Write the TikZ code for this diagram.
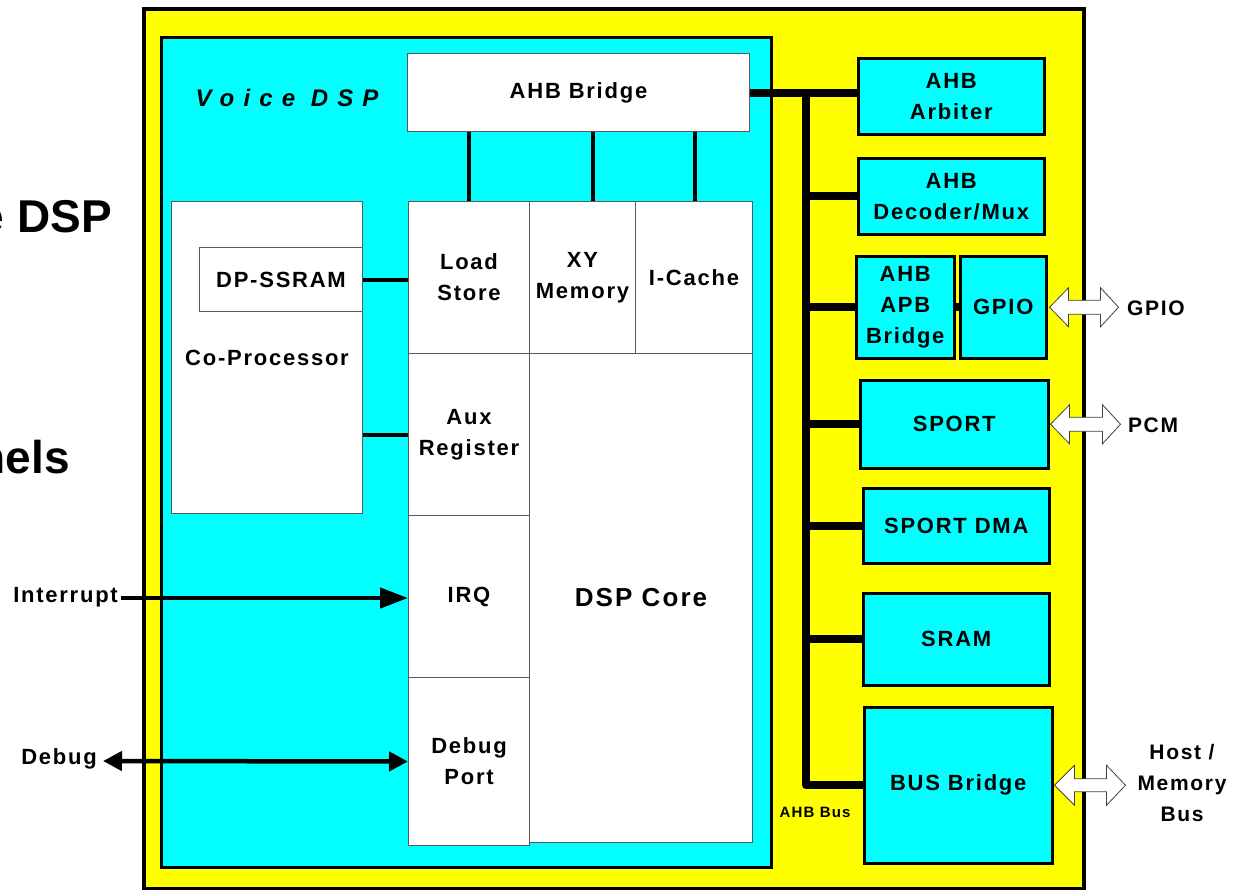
\documentclass[tikz,border=0pt]{standalone}
\usepackage{fontspec}
\setmainfont{Liberation Sans}
\newfontfamily\lbl{Liberation Sans}[LetterSpace=8]
\newfontfamily\vfont{Liberation Sans}[LetterSpace=38]
\usetikzlibrary{arrows.meta}
\definecolor{ylw}{RGB}{255,255,0}
\definecolor{cyn}{RGB}{0,255,255}
\definecolor{edgegray}{RGB}{90,90,90}
\newcommand\blockbox[7]{\node[#1, minimum width={#5-#3}, minimum height={#6-#4}] (#2) at (#3,#4) {#7};}
\begin{document}
\begin{tikzpicture}[x=1pt,y=-1pt,
  txt/.style={font=\lbl\bfseries\fontsize{22}{31}\selectfont, align=center},
  wbox/.style={draw=edgegray, line width=1pt, fill=white, anchor=north west, inner sep=0pt, txt},
  cbox/.style={draw=black, line width=2.5pt, fill=cyn, anchor=north west, inner sep=0pt, txt},
  frame/.style={draw=black, anchor=north west, inner sep=0pt},
  bus/.style={line width=8pt, line join=round},
  link/.style={line width=4pt},
  sig/.style={line width=4.5pt},
  blockarrow/.style={draw=black!75, fill=white, line width=0.8pt, line join=miter},
  side/.style={font=\lbl\bfseries\fontsize{21}{31}\selectfont, align=center},
  big/.style={font=\bfseries\fontsize{46}{50}\selectfont, inner sep=0pt}]
\useasboundingbox (0,0) rectangle (1233,889);
% partial slide texts (cut at the left edge, as in the reference)
\node[big, anchor=east] (ttl) at (112,217) {e DSP};
\node[big, anchor=base east] (ttl2) at (70,473) {nels};
% frames
\blockbox{frame, fill=ylw, line width=4pt}{soc}{142}{7}{1082}{887}{}
\blockbox{frame, fill=cyn, line width=3pt}{vdsp}{160}{36}{770}{866}{}
\node[font=\vfont\bfseries\itshape\fontsize{24}{28}\selectfont] (vlbl) at (287,98) {Voice DSP};
% DSP internals
\blockbox{wbox}{ahbbr}{407}{53}{749}{131}{AHB Bridge}
\blockbox{wbox}{cop}{171}{201}{362}{513}{Co-Processor}
\blockbox{wbox}{dpss}{199}{247}{362}{311}{DP-SSRAM}
\blockbox{wbox}{ls}{408}{201}{529}{353}{Load\\Store}
\blockbox{wbox}{xy}{529}{201}{635}{353}{XY\\Memory}
\blockbox{wbox}{ic}{635}{201}{752}{353}{I-Cache}
\blockbox{wbox}{aux}{408}{353}{529}{515}{Aux\\Register}
\blockbox{wbox}{irq}{408}{515}{529}{677}{IRQ}
\blockbox{wbox}{dport}{408}{677}{529}{845}{Debug\\Port}
\blockbox{wbox, font=\lbl\bfseries\fontsize{26}{31}\selectfont}{core}{529}{353}{752}{842}{DSP Core}
% peripherals
\blockbox{cbox}{arb}{857}{57}{1043}{133}{AHB\\Arbiter}
\blockbox{cbox}{dec}{857}{157}{1043}{233}{AHB\\Decoder/Mux}
\blockbox{cbox}{apb}{855}{255}{953}{357}{AHB\\APB\\Bridge}
\blockbox{cbox}{gpio}{959}{255}{1045}{357}{GPIO}
\blockbox{cbox}{sport}{859}{379}{1047}{467}{SPORT}
\blockbox{cbox}{sdma}{862}{487}{1048}{562}{SPORT DMA}
\blockbox{cbox}{sram}{862}{592}{1048}{684}{SRAM}
\blockbox{cbox}{bbr}{863}{706}{1051}{862}{BUS Bridge}
% internal links
\draw[link] (ahbbr.south -| ls.center) -- (ls.north);
\draw[link] (ahbbr.south -| 593,0) -- (xy.north -| 593,0);
\draw[link] (ahbbr.south -| 695,0) -- (ic.north -| 695,0);
\draw[link] (dpss.east) -- (dpss.east -| ls.west);
\draw[link] (aux.west -| cop.east) -- (aux.west);
% external signals
\node[txt, anchor=east, inner sep=0pt] (intr) at (118,597) {Interrupt};
\node[txt, anchor=east, inner sep=0pt] (dbg) at (97,759) {Debug};
\draw[sig, -{Triangle[length=28pt,width=20pt]}] (intr.east) ++(3,1) coordinate (intrs) (intrs) -- (intrs -| irq.west);
\draw[sig, {Triangle[length=19pt,width=19pt]}-{Triangle[length=19pt,width=19pt]}] (dbg.east) ++(6,2) coordinate (dbgs) (dbgs) -- (dport.west);
% AHB bus
\coordinate (bx) at (806,0);
\draw[bus] (ahbbr.east) -- (ahbbr.east -| arb.west);
\draw[bus] (ahbbr.east -| bx) |- (bbr.west);
\draw[bus] (dec.west -| bx) -- (dec.west);
\draw[bus] (apb.west -| bx) -- (apb.west);
\draw[bus] (apb.east) -- (gpio.west);
\draw[bus] (sport.west -| bx) -- (sport.west);
\draw[bus] (sdma.west -| bx) -- (sdma.west);
\draw[bus] (sram.west -| bx) -- (sram.west);
\node[font=\lbl\bfseries\fontsize{15}{18}\selectfont] (busl) at (815,812) {AHB Bus};
% external labels
\node[side] (gpiol) at (1156,308) {GPIO};
\node[side] (pcml) at (1153,425) {PCM};
\node[side] (hostl) at (1182,783) {Host /\\Memory\\Bus};
% block double arrows
\draw[blockarrow] (gpio.east) ++(2,0) -- ++(19,-19.5) -- ++(0,12.5) -- ++(32,0) -- ++(0,-12.5) -- ++(18,19.5) -- ++(-18,19.5) -- ++(0,-12.5) -- ++(-32,0) -- ++(0,12.5) -- cycle;
\draw[blockarrow] (sport.east) ++(1,0) -- ++(19,-19.5) -- ++(0,12.5) -- ++(33,0) -- ++(0,-12.5) -- ++(18,19.5) -- ++(-18,19.5) -- ++(0,-12.5) -- ++(-33,0) -- ++(0,12.5) -- cycle;
\draw[blockarrow] (bbr.east) ++(1,0) -- ++(20,-20) -- ++(0,13.5) -- ++(32,0) -- ++(0,-13.5) -- ++(19,20) -- ++(-19,20) -- ++(0,-13.5) -- ++(-32,0) -- ++(0,13.5) -- cycle;
\end{tikzpicture}
\end{document}
